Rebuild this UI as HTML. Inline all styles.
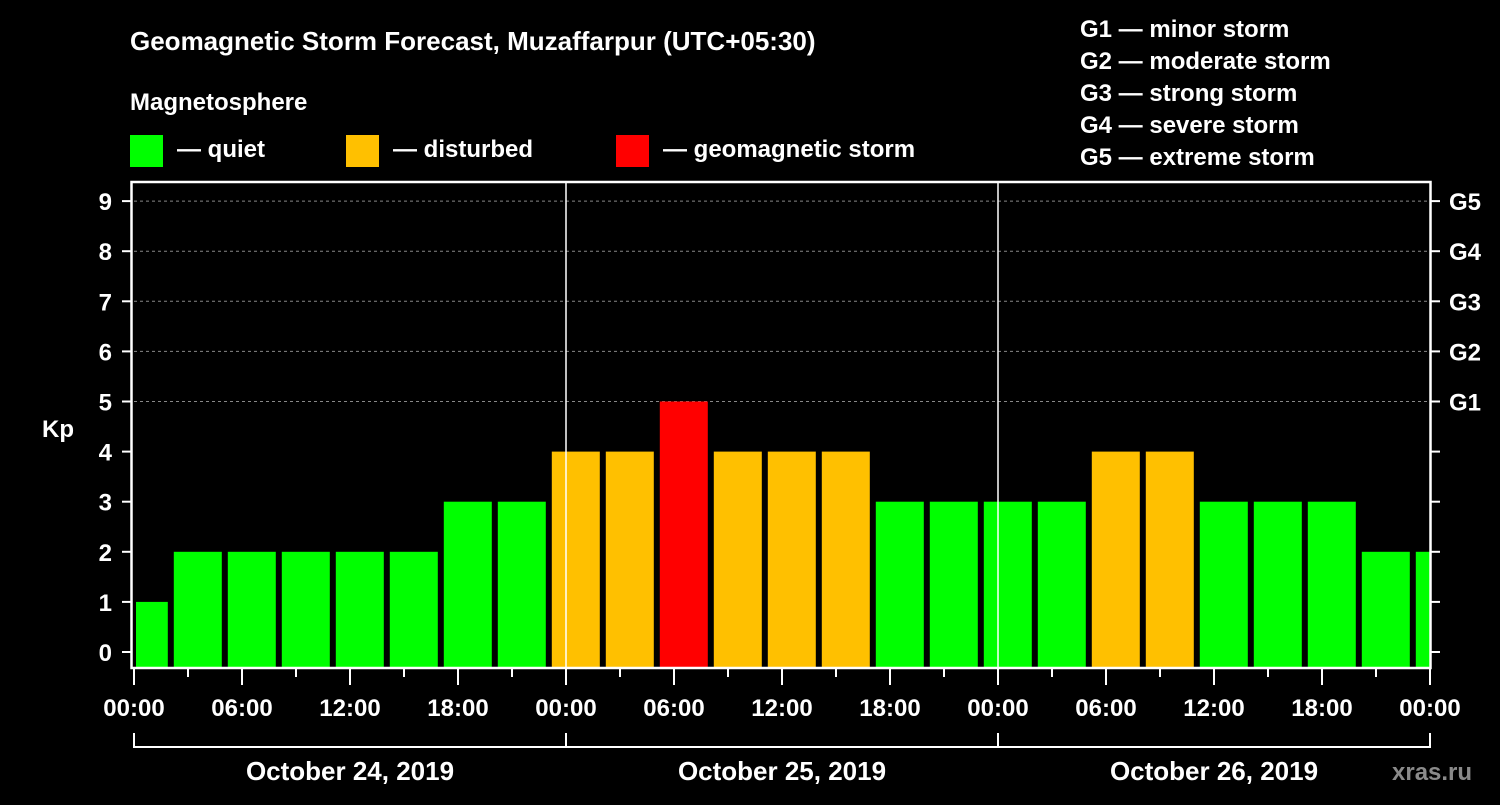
<!DOCTYPE html>
<html><head><meta charset="utf-8"><style>
body{margin:0;background:#000;width:1500px;height:800px;overflow:hidden}
svg text{font-family:"Liberation Sans",Arial,sans-serif;font-weight:bold;fill:#fff}
</style></head><body>
<svg id="chart" width="1500" height="800" viewBox="0 0 1500 800">
<text x="130" y="50" font-size="26">Geomagnetic Storm Forecast, Muzaffarpur (UTC+05:30)</text>
<text x="130" y="110" font-size="24">Magnetosphere</text>
<g><rect x="130" y="135" width="33" height="32" fill="#00ff00"/><text x="177" y="157" font-size="24">— quiet</text></g>
<g><rect x="346" y="135" width="33" height="32" fill="#ffc000"/><text x="393" y="157" font-size="24">— disturbed</text></g>
<g><rect x="616" y="135" width="33" height="32" fill="#ff0000"/><text x="663" y="157" font-size="24">— geomagnetic storm</text></g>
<g font-size="24">
<text x="1080" y="37">G1 — minor storm</text>
<text x="1080" y="69">G2 — moderate storm</text>
<text x="1080" y="101">G3 — strong storm</text>
<text x="1080" y="133">G4 — severe storm</text>
<text x="1080" y="165">G5 — extreme storm</text>
</g>
<g id="plot"></g>
<text x="42" y="437" font-size="24">Kp</text>
<text x="1392" y="780" font-size="24" fill="#888" style="fill:#8a8a8a">xras.ru</text>
</svg>
<script>
const kpValues=[1,2,2,2,2,2,3,3,4,4,5,4,4,4,3,3,3,3,4,4,3,3,3,2,2];
const yTicks=[0,1,2,3,4,5,6,7,8,9];
const gLabels=["G1","G2","G3","G4","G5"];
const dayLabels=["October 24, 2019","October 25, 2019","October 26, 2019"];
const hourLabels=["00:00","06:00","12:00","18:00"];
const firstSlotHours=2.1; // first partial slot length (hours)
const NS="http://www.w3.org/2000/svg";
const X0=134,X1=1430,PY0=182,PY1=668,pxH=18;
const xs=h=>X0+h*pxH;
const ys=v=>652-v*50.1;
const g=document.getElementById('plot');
function mk(t,a,p){const e=document.createElementNS(NS,t);for(const k in a)e.setAttribute(k,a[k]);(p||g).appendChild(e);return e;}
// grid
for(let v=5;v<=9;v++){const l=mk('line',{x1:X0,x2:X1,y1:ys(v),y2:ys(v),stroke:'#888','stroke-dasharray':'3,3','stroke-width':1});

}
// bars
kpValues.forEach((v,i)=>{
 const hs=i===0?0:firstSlotHours+(i-1)*3;
 const he=Math.min(i===0?firstSlotHours:firstSlotHours+i*3,72);
 const x=xs(hs)+2,w=xs(he)-xs(hs)-(i===kpValues.length-1?2:6)-(i===0?0:0);
 const c=v>=5?'#ff0000':v>=4?'#ffc000':'#00ff00';
 const r=mk('rect',{x:i===0?x:x,y:ys(v),width:Math.max(w,1),height:667-ys(v),fill:c});
 
 
});
// day separators
for(let d=1;d<3;d++){const l=mk('line',{x1:xs(d*24),x2:xs(d*24),y1:PY0,y2:PY1,stroke:'#fff','stroke-width':1.5});

}
// frame
const f=mk('rect',{x:X0-2.5,y:PY0,width:X1-X0+3,height:PY1-PY0,fill:'none',stroke:'#fff','stroke-width':2.5});


// y ticks
yTicks.forEach(v=>{
 mk('line',{x1:122,x2:131,y1:ys(v),y2:ys(v),stroke:'#fff','stroke-width':2});
 mk('line',{x1:1431,x2:1440,y1:ys(v),y2:ys(v),stroke:'#fff','stroke-width':2});
 const t=mk('text',{x:112,y:ys(v)+9,'font-size':24,'text-anchor':'end'});t.textContent=v;
 
 
});
gLabels.forEach((s,i)=>{const t=mk('text',{x:1449,y:ys(5+i)+9,'font-size':24});t.textContent=s;
 
 });
// x ticks
for(let h=0;h<=72;h+=3){const maj=h%6===0;mk('line',{x1:xs(h),x2:xs(h),y1:669,y2:maj?685:677,stroke:'#fff','stroke-width':2});}
for(let h=0;h<=72;h+=6){const t=mk('text',{x:xs(h),y:716,'font-size':24,'text-anchor':'middle'});t.textContent=hourLabels[(h/6)%4];
 
 }
// day bracket
mk('line',{x1:X0,x2:X1,y1:747,y2:747,stroke:'#fff','stroke-width':2});
for(let d=0;d<=3;d++)mk('line',{x1:xs(d*24),x2:xs(d*24),y1:733,y2:748,stroke:'#fff','stroke-width':2});
dayLabels.forEach((s,d)=>{const t=mk('text',{x:xs(d*24+12),y:780,'font-size':26,'text-anchor':'middle'});t.textContent=s;
 
 });
</script>
</body></html>
